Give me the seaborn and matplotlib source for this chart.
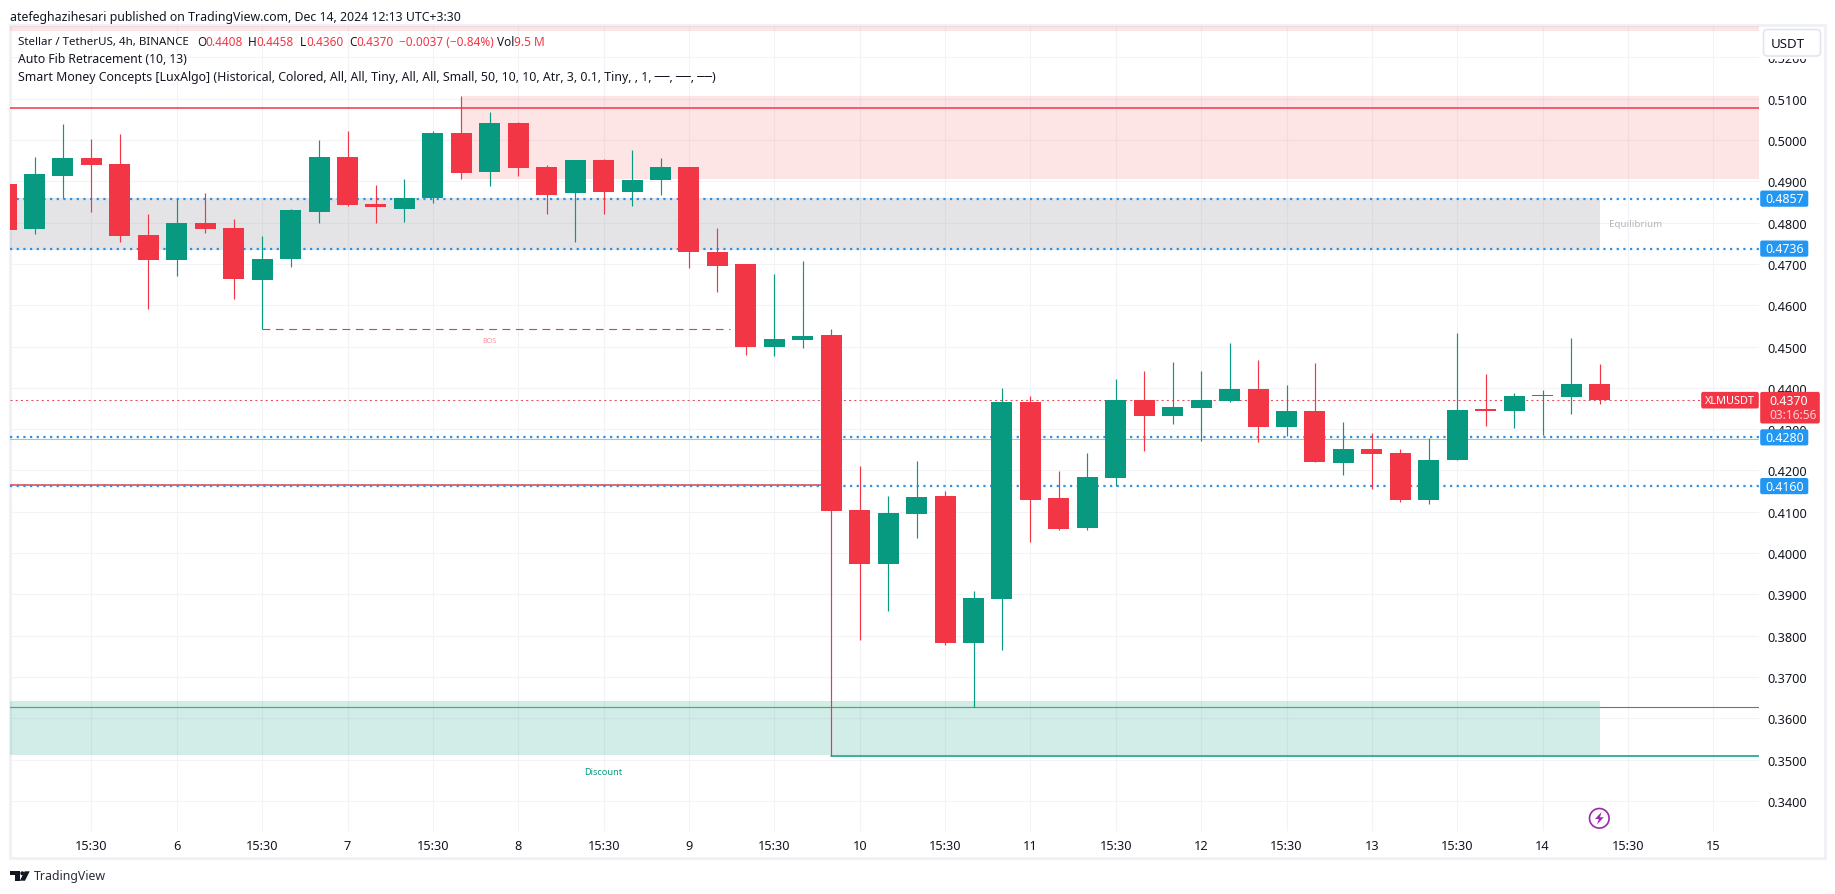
import matplotlib
matplotlib.use("Agg")
import matplotlib.pyplot as plt
from matplotlib.patches import Rectangle, FancyBboxPatch, Circle, Polygon
import numpy as np
import pandas as pd
import seaborn as sns

# ---------- data (4h candles) ----------
opens = [.4893,.4784,.4914,.4956,.4943,.4769,.4709,.4798,.4786,.4660,.4711,.4825,.4960,.4844,.4834,.4859,.5018,.4922,
         .5040,.4934,.4871,.4951,.4873,.4902,.4934,.4730,.4699,.4500,.4515,.4527,.4104,.3973,.4094,.4138,.3782,.3888,
         .4365,.4133,.4060,.4181,.4370,.4331,.4351,.4368,.4397,.4305,.4343,.4218,.4251,.4242,.4128,.4225,.4346,.4343,
         .4380,.4377,.4408]
highs = [.4893,.4958,.5038,.5002,.5014,.4822,.4856,.4871,.4808,.4767,.4834,.4999,.5021,.4890,.4905,.5021,.5106,.5067,
         .5043,.4939,.4951,.4953,.4975,.4956,.4934,.4788,.4699,.4675,.4706,.4542,.4210,.4138,.4222,.4150,.3908,.4399,
         .4380,.4198,.4242,.4421,.4440,.4462,.4440,.4508,.4467,.4406,.4460,.4317,.4290,.4251,.4278,.4532,.4433,.4387,
         .4394,.4520,.4458]
lows = [.4781,.4772,.4859,.4825,.4752,.4590,.4670,.4776,.4614,.4543,.4692,.4798,.4839,.4798,.4801,.4847,.4905,.4888,
        .4914,.4822,.4752,.4822,.4839,.4866,.4689,.4633,.4479,.4476,.4496,.3508,.3789,.3859,.4036,.3777,.3626,.3765,
        .4026,.4055,.4055,.4162,.4247,.4312,.4271,.4366,.4268,.4283,.4220,.4188,.4155,.4123,.4118,.4225,.4307,.4302,
        .4285,.4336,.4360]
closes = [.4781,.4917,.4956,.4939,.4767,.4709,.4798,.4784,.4663,.4713,.4830,.4958,.4842,.4837,.4859,.5018,.4919,.5040,
          .4931,.4868,.4951,.4873,.4902,.4934,.4728,.4696,.4500,.4517,.4525,.4101,.3973,.4096,.4135,.3782,.3891,.4365,
          .4128,.4058,.4184,.4370,.4331,.4353,.4370,.4397,.4305,.4343,.4220,.4251,.4239,.4128,.4225,.4346,.4345,.4380,
          .4381,.4409,.4370]
candle_index = list(range(-1, 56))

price_ticks = [.34, .35, .36, .37, .38, .39, .40, .41, .42, .43, .44, .45, .46, .47, .48, .49, .50, .51, .52]
time_tick_index = [2, 5, 8, 11, 14, 17, 20, 23, 26, 29, 32, 35, 38, 41, 44, 47, 50, 53, 56, 59]
time_tick_labels = ["15:30", "6", "15:30", "7", "15:30", "8", "15:30", "9", "15:30", "10",
                    "15:30", "11", "15:30", "12", "15:30", "13", "15:30", "14", "15:30", "15"]

blue_levels = [.4858, .4737, .4280, .4162]
blue_labels = ["0.4857", "0.4736", "0.4280", "0.4160"]
last_price = .4370
last_label = "0.4370"
countdown = "03:16:56"
symbol = "XLMUSDT"

# ---------- style ----------
sns.set_theme(style="white")
FONT = ["Noto Sans", "DejaVu Sans"]
plt.rcParams["font.family"] = FONT
UP, DOWN, BLUE = "#089981", "#f23645", "#2196f3"
INK = "#131722"
GRID = "#f2f3f6"

W, H = 1835, 895
fig = plt.figure(figsize=(W / 100, H / 100), dpi=100, facecolor="white")


def px_axes(z):
    a = fig.add_axes([0, 0, 1, 1], zorder=z)
    a.set_xlim(0, W)
    a.set_ylim(H, 0)
    a.axis("off")
    a.patch.set_alpha(0)
    return a


under = px_axes(0)
under.add_patch(Rectangle((10, 26), 1815, 833, fc="white", ec="#f0f1f6", lw=2.2))

# ---------- main chart ----------
L, R, T, B = 10, 1759, 27, 832
K0, DK = 34.5, 28.455
P0, DP, Y0 = .51, 4130.0, 99.7
ax = fig.add_axes([L / W, 1 - B / H, (R - L) / W, (B - T) / H], zorder=1)
ax.patch.set_alpha(0)
x_min, x_max = (L - K0) / DK, (R - K0) / DK
ax.set_xlim(x_min, x_max)
ax.set_ylim(P0 - (B - Y0) / DP, P0 + (Y0 - T) / DP)
ax.set_xticks(time_tick_index, time_tick_labels)
ax.set_yticks(price_ticks, [f"{p:.4f}" for p in price_ticks])
ax.yaxis.tick_right()
ax.tick_params(axis="both", length=0, labelsize=9.2, labelcolor=INK)
ax.tick_params(axis="y", pad=6.3)
ax.tick_params(axis="x", pad=5.5)
ax.grid(True, color=GRID, lw=0.8)
ax.set_axisbelow(True)
for s in ax.spines.values():
    s.set_visible(False)

# zones
zones = [(x_min, x_max, .5264, .5290, DOWN, .13),
         (15, x_max, .4905, .5106, DOWN, .13),
         (x_min, 55, .4734, .4860, "#787b86", .20),
         (x_min, 55, .3510, .3641, UP, .18)]
for x0, x1, y0, y1, c, al in zones:
    ax.fill_between([x0, x1], y0, y1, color=c, alpha=al, lw=0, zorder=1)


def level(x0, x1, y, color, lw, ls="-", z=2):
    sns.lineplot(x=[x0, x1], y=[y, y], color=color, linewidth=lw, linestyle=ls, ax=ax,
                 errorbar=None, legend=False, zorder=z)


level(x_min, x_max, .5078, DOWN, 1.1)
level(x_min, 28, .4165, "#d9434b", 1.1)
level(x_min, x_max, .4277, "#9fd0a0", 0.8)
level(x_min, 55, .3626, "#4caf50", 0.85)
level(55, x_max, .3626, "#8c6a5c", 0.8)
level(28, x_max, .3508, UP, 1.1)
level(8, 24.45, .4543, DOWN, 0.8, (0, (7, 5)))
level(x_min, x_max, last_price, "#e8505c", 0.75, (0, (2, 3)))
for y in blue_levels:
    level(x_min, x_max, y, "#2e90e5", 1.6, (0, (1, 2)))

# candles
df = pd.DataFrame({"k": candle_index, "o": opens, "h": highs, "l": lows, "c": closes})
df["color"] = np.where(df["c"] >= df["o"], UP, DOWN)
ax.vlines(df["k"], df["l"], df["h"], colors=df["color"], lw=0.85, zorder=3)
ax.bar(df["k"], np.maximum((df["c"] - df["o"]).abs(), .00025), bottom=df[["o", "c"]].min(axis=1),
       width=21 / DK, color=df["color"], lw=0, zorder=4)

ax.text(16, .4514, "BOS", color="#f7919b", fontsize=5.2, ha="center", va="center", zorder=5)
ax.text(56.25, .4797, "Equilibrium", color="#b2b5be", fontsize=7, ha="center", va="center", zorder=5)
ax.text(20, .3472, "Discount", color=UP, fontsize=6.6, ha="center", va="center", zorder=5)

# ---------- overlay: header, legend, price tags ----------
top = px_axes(3)


def t(x, y, s, color=INK, size=9.2, ha="left", weight="normal", a=top):
    return a.text(x, y, s, color=color, fontsize=size, ha=ha, va="center", fontweight=weight)


t(10, 17, "atefeghazihesari published on TradingView.com, Dec 14, 2024 12:13 UTC+3:30", size=8.85)
t(18, 42.5, "Stellar / TetherUS, 4h, BINANCE", size=8.3)
for x, s, c in [(197, "O", INK), (205, "0.4408", DOWN), (248, "H", INK), (256, "0.4458", DOWN),
                (300, "L", INK), (306, "0.4360", DOWN), (349, "C", INK), (356, "0.4370", DOWN),
                (399, "−0.0037 (−0.84%)", DOWN), (497, "Vol", INK), (514, "9.5 M", DOWN)]:
    t(x, 42.5, s, c, size=8.5)
t(18, 59.8, "Auto Fib Retracement (10, 13)", size=8.8)
t(18, 77, "Smart Money Concepts [LuxAlgo] (Historical, Colored, All, All, Tiny, All, All, Small, 50, 10, 10, Atr, 3, 0.1, Tiny, , 1, ──, ──, ──)", size=8.85)

# USDT button
top.add_patch(Rectangle((1760, 28), 63, 31.5, fc="white", ec="none"))
top.add_patch(FancyBboxPatch((1766, 33), 52, 21.5, boxstyle="round,pad=2.5,rounding_size=4",
                             fc="white", ec="#e0e3eb", lw=1.1))
t(1788, 44.5, "USDT", size=9.6, ha="center")


def to_y(p):
    return Y0 + (P0 - p) * DP


for y, s in zip(blue_levels, blue_labels):
    yc = to_y(y)
    top.add_patch(FancyBboxPatch((1761, yc - 7.3), 46.5, 14.6, boxstyle="round,pad=0.8,rounding_size=2",
                                 fc=BLUE, ec="none"))
    t(1784.5, yc, s, "white", size=8.9, ha="center", weight="bold")

yc = to_y(last_price)
top.add_patch(FancyBboxPatch((1761, yc - 7.5), 58, 30, boxstyle="round,pad=0.8,rounding_size=2", fc=DOWN, ec="none"))
t(1769, yc + 0.5, last_label, "white", size=8.9, weight="bold")
t(1769, yc + 14, countdown, "#fbd0d4", size=8.6)
top.add_patch(FancyBboxPatch((1702, yc - 7.5), 56, 15, boxstyle="round,pad=0.8,rounding_size=2", fc=DOWN, ec="none"))
t(1730, yc, symbol, "white", size=7.9, ha="center", weight="bold")

# purple icon
top.add_patch(Circle((1599.3, 819.3), 9.8, fc="white", ec="#9c27b0", lw=1.2))
top.add_patch(Polygon([(1601.5, 813), (1595, 820), (1598.8, 820), (1597, 825.5), (1603.7, 818.3), (1600, 818.3)],
                      fc="#9c27b0", ec="none"))

# TradingView logo
top.add_patch(Polygon([(10, 872.3), (19.5, 872.3), (19.5, 881.7), (14.5, 881.7), (14.5, 876.3), (10, 876.3)],
                      fc=INK, ec="none"))
top.add_patch(Circle((22.3, 874.3), 2, fc=INK, ec="none"))
top.add_patch(Polygon([(24.7, 872.3), (29.7, 872.3), (25, 881.7), (19.8, 881.7)], fc=INK, ec="none"))
t(33.5, 877, "TradingView", "#2a2e39", size=8.9)

fig.savefig("out.png", dpi=100, facecolor="white")
